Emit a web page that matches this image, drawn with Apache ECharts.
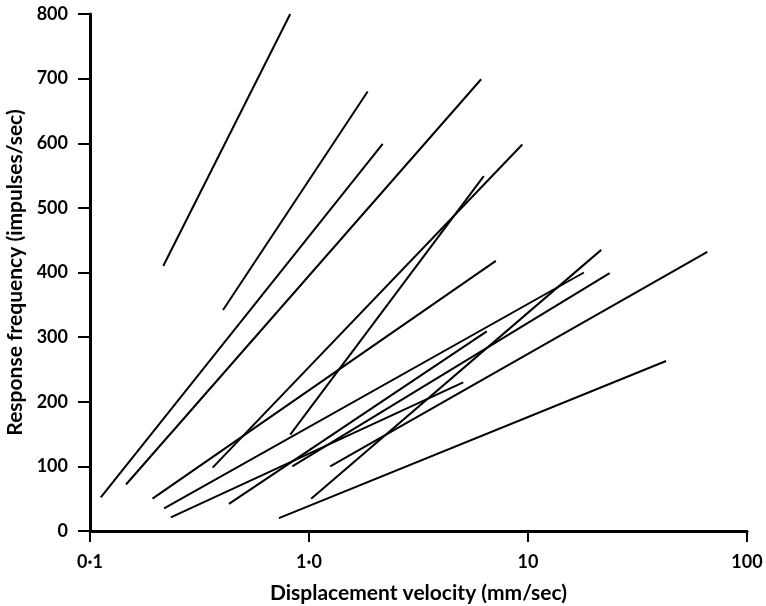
<!DOCTYPE html>
<html>
<head>
<meta charset="utf-8">
<script src="https://cdn.jsdelivr.net/npm/echarts@6/dist/echarts.min.js"></script>
<style>
html,body{margin:0;padding:0;background:#fff;}
#c{width:766px;height:606px;}
</style>
</head>
<body>
<div id="c"></div>
<script>
// Start and end points of each response line (velocity mm/sec, impulses/sec)
var startX = [0.216, 0.405, 0.112, 0.146, 0.363, 0.821, 0.193, 0.218, 0.234, 0.431, 0.839, 1.25, 1.023, 0.729];
var startY = [410, 342, 52, 72, 98, 149, 50, 35, 21, 42, 100, 100, 50, 20];
var endX   = [0.821, 1.853, 2.17, 6.11, 9.42, 6.28, 7.13, 18.0, 5.06, 6.48, 23.6, 65.9, 21.6, 42.7];
var endY   = [800, 680, 599, 699, 598, 549, 418, 400, 230, 309, 399, 432, 435, 263];

var xTickValues = [0.1, 1, 10, 100];
var xTickLabels = ['0·1', '1·0', '10', '100'];
var yTickLabels = ['0', '100', '200', '300', '400', '500', '600', '700', '800'];

var FONT = 'Lato';
var series = [];
for (var i = 0; i < startX.length; i++) {
  series.push({
    type: 'line',
    data: [[startX[i], startY[i]], [endX[i], endY[i]]],
    showSymbol: false,
    symbol: 'none',
    silent: true,
    lineStyle: { color: '#000', width: 2 }
  });
}

var chart = echarts.init(document.getElementById('c'), null, { renderer: 'canvas' });
chart.setOption({
  animation: false,
  backgroundColor: '#fff',
  grid: { left: 90, right: 19, top: 14, bottom: 75, containLabel: false, outerBoundsMode: 'none' },
  xAxis: {
    type: 'log',
    logBase: 10,
    min: 0.1,
    max: 100,
    name: 'Displacement velocity (mm/sec)',
    nameLocation: 'middle',
    nameGap: 52,
    nameTextStyle: { fontFamily: FONT, fontSize: 21, fontWeight: 'bold', color: '#000' },
    axisLine: { lineStyle: { color: '#000', width: 3 } },
    axisTick: { show: true, length: 11, lineStyle: { color: '#000', width: 2 } },
    minorTick: { show: false },
    splitLine: { show: false },
    axisLabel: {
      margin: 22,
      fontFamily: FONT, fontSize: 18, fontWeight: 'bold', color: '#000',
      formatter: function (v) {
        for (var k = 0; k < xTickValues.length; k++) {
          if (Math.abs(Math.log10(v) - Math.log10(xTickValues[k])) < 1e-6) return xTickLabels[k];
        }
        return '';
      }
    }
  },
  yAxis: {
    type: 'value',
    min: 0,
    max: 800,
    interval: 100,
    name: 'Response frequency (impulses/sec)',
    nameLocation: 'middle',
    nameGap: 62,
    nameRotate: 90,
    nameTextStyle: { fontFamily: FONT, fontSize: 21, fontWeight: 'bold', color: '#000' },
    axisLine: { show: true, lineStyle: { color: '#000', width: 3 } },
    axisTick: { show: true, length: 12, lineStyle: { color: '#000', width: 2 } },
    splitLine: { show: false },
    axisLabel: {
      margin: 22,
      fontFamily: FONT, fontSize: 18, fontWeight: 'bold', color: '#000',
      formatter: function (v) { return yTickLabels[Math.round(v / 100)]; }
    }
  },
  series: series
});
</script>
</body>
</html>
